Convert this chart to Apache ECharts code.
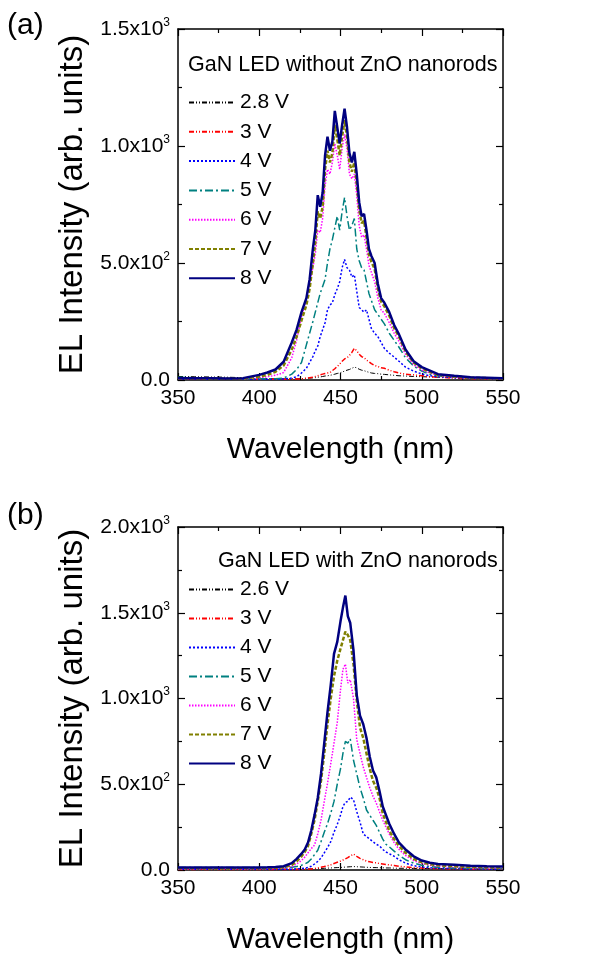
<!DOCTYPE html>
<html><head><meta charset="utf-8">
<script src="https://cdn.jsdelivr.net/npm/echarts@6/dist/echarts.min.js"></script>
<style>html,body{margin:0;padding:0;background:#fff}#c{width:601px;height:956px}</style>
</head><body><div id="c"></div>
<script>
// ---------- DATA ----------
const seriesNamesTop = ['2.8 V','3 V','4 V','5 V','6 V','7 V','8 V'];
const seriesNamesBot = ['2.6 V','3 V','4 V','5 V','6 V','7 V','8 V'];
const xTicks = [350,400,450,500,550];
const topYTicks = [0,500,1000,1500];
const topYTickLabels = ['0.0','5.0x10^2','1.0x10^3','1.5x10^3'];
const botYTicks = [0,500,1000,1500,2000];
const botYTickLabels = ['0.0','5.0x10^2','1.0x10^3','1.5x10^3','2.0x10^3'];
const topTitle = 'GaN LED without ZnO nanorods';
const botTitle = 'GaN LED with ZnO nanorods';

const topWl = [350,360,370,380,390,400,405,410,415,420,423,426,429,431,433,434.5,436,437.5,439,440.5,442,443.5,445,446.5,448,449.5,451,452.5,454,455.5,457,458.5,460,461.5,463,464.5,466,467.5,469,471,473,475,477,480,483,486,490,495,500,505,510,520,530,540,550];
const top28 = [15,14,13,12,10,8,6,5,5,5,5,6,7,8,9,10,12,13,15,17,18,20,22,25,28,30,34,38,42,45,50,55,52,46,42,40,36,33,30,28,27,25,24,22,20,18,17,15,14,13,12,11,10,9,8];
const top3  = [3,3,3,3,3,3,3,3,3,3,4,5,8,10,12,15,18,22,25,28,30,32,40,48,58,68,80,90,95,105,118,135,125,110,100,95,85,78,70,62,58,52,50,42,35,30,25,22,18,14,12,8,6,5,4];
const top4  = [4,4,3,3,3,3,3,3,4,8,14,30,50,75,100,125,145,185,215,245,300,320,330,365,390,420,480,515,480,470,440,450,380,310,300,290,300,260,220,200,185,160,135,115,98,80,55,38,26,18,14,10,8,6,5];
const top5  = [12,10,8,6,5,5,5,5,8,25,45,75,150,200,250,290,330,370,400,430,500,560,600,650,700,640,720,780,700,640,660,690,560,510,480,470,420,370,340,300,280,260,240,200,170,140,95,60,38,25,18,12,9,7,6];
const top6  = [5,5,4,4,5,10,14,20,32,95,170,270,350,420,480,540,640,630,690,830,900,880,930,1010,960,900,990,1050,990,880,860,880,790,660,610,620,560,490,460,420,350,300,285,245,200,165,110,65,42,30,20,12,9,7,6];
const top7  = [6,6,5,5,6,15,22,35,62,130,185,255,320,390,500,590,720,690,740,900,980,930,970,1090,1030,960,1040,1110,1040,930,890,930,840,730,670,680,610,535,505,475,390,335,315,275,222,185,122,75,50,35,22,15,10,8,6];
const top8  = [8,8,7,6,8,22,32,45,78,160,215,290,350,430,560,640,790,740,800,960,1040,980,1020,1150,1080,1010,1090,1160,1080,970,930,975,880,760,700,710,640,560,530,500,410,350,330,290,235,195,130,80,55,40,25,18,12,10,8];

const botWl = [350,360,370,380,390,400,405,410,415,420,423,426,428,430,432,434,436,438,440,442,444,446,448,450,451.5,453,454.5,456,458,460,462,464,466,468,470,472,474,476,478,480,483,486,490,495,500,505,510,520,530,540,550];
const bot26 = [6,6,5,5,5,5,5,5,5,5,5,6,6,6,7,7,8,9,10,11,12,13,14,15,16,17,18,19,20,19,18,17,16,15,14,14,13,13,12,12,11,10,10,9,9,8,8,7,7,6,6];
const bot3  = [3,3,3,3,3,3,3,3,3,3,3,4,4,5,6,8,12,16,20,25,30,38,45,52,58,65,72,82,93,80,68,60,52,48,44,42,38,35,32,30,26,22,18,14,11,9,8,6,5,4,4];
const bot4  = [4,4,4,4,4,4,4,4,4,5,6,8,10,15,22,35,50,70,100,130,165,220,265,320,370,395,400,425,410,340,280,210,195,180,165,150,140,120,105,95,80,60,40,25,18,13,10,8,6,5,5];
const bot5  = [15,15,14,14,14,14,14,14,14,16,20,28,35,45,64,90,115,165,220,270,330,400,500,590,680,750,740,765,640,560,480,420,350,320,290,260,220,180,150,135,110,85,60,40,28,20,16,12,10,9,8];
const bot6  = [6,6,6,6,6,7,8,9,12,20,35,55,75,100,125,145,210,290,400,505,620,740,860,1050,1170,1200,1090,1110,1000,760,680,600,540,480,430,390,340,290,250,210,160,120,85,55,38,28,22,17,14,12,11];
const bot7  = [10,10,9,9,10,10,11,13,16,30,50,80,105,140,210,290,400,520,680,850,1000,1130,1220,1290,1340,1390,1370,1340,1200,990,830,770,680,590,520,480,420,330,280,230,180,140,100,65,45,34,28,22,18,16,14];
const bot8  = [15,15,14,14,15,15,16,18,22,40,65,95,120,160,230,320,420,560,740,920,1080,1260,1330,1450,1530,1600,1480,1440,1280,1020,900,850,770,660,580,540,460,370,320,270,210,160,120,80,55,42,35,30,25,22,20];

// ---------- STYLE ----------
const styles = [
  {color:'#000000', width:1,   type:[5,2,1,2,1,2]},
  {color:'#ff0000', width:1.5, type:[5,2,1,2,1,2]},
  {color:'#0000ff', width:1.5, type:[2,2]},
  {color:'#008080', width:1.5, type:[8,3,2,3]},
  {color:'#ff00ff', width:1.5, type:[1.5,1.5]},
  {color:'#808000', width:2.5, type:[4,2]},
  {color:'#000080', width:2.5, type:'solid'}
];
const FONT = 'Liberation Sans, Arial, sans-serif';

function richLabel(s){
  const p = s.split('^');
  return p.length>1 ? '{m|'+p[0]+'}{s|'+p[1]+'}' : '{m|'+p[0]+'}';
}
const labelRich = {
  m:{fontSize:21, fontFamily:FONT, color:'#000'},
  s:{fontSize:12, fontFamily:FONT, color:'#000', padding:[0,0,13,0]}
};
function yAxes(gi, max, ticks, labels){
  const common = {gridIndex:gi, type:'value', min:0, max:max, interval:500,
    splitLine:{show:false},
    axisLine:{show:true, onZero:false, lineStyle:{color:'#000', width:1.5}},
    axisTick:{show:true, inside:true, length:7, lineStyle:{color:'#000', width:1.2}},
    minorTick:{show:true, splitNumber:2, length:4, lineStyle:{color:'#000', width:1.2}}};
  return [
    Object.assign({}, common, {position:'left',
      name:'EL Intensity (arb. units)', nameLocation:'middle', nameGap:86, nameRotate:90,
      nameTextStyle:{fontSize:33, fontFamily:FONT, color:'#000'},
      axisLabel:{margin:8, formatter:v=>{const i=ticks.indexOf(v);return i<0?'':richLabel(labels[i]);}, rich:labelRich}}),
    Object.assign({}, common, {position:'right', axisLabel:{show:false}})
  ];
}
function xAxes(gi){
  const common = {gridIndex:gi, type:'value', min:350, max:550, interval:50,
    splitLine:{show:false},
    axisLine:{show:true, onZero:false, lineStyle:{color:'#000', width:1.5}},
    axisTick:{show:true, inside:true, length:7, lineStyle:{color:'#000', width:1.2}},
    minorTick:{show:true, splitNumber:2, length:4, lineStyle:{color:'#000', width:1.2}}};
  return [
    Object.assign({}, common, {position:'bottom',
      name:'Wavelength (nm)', nameLocation:'middle', nameGap:55,
      nameTextStyle:{fontSize:30, fontFamily:FONT, color:'#000'},
      axisLabel:{margin:8, fontSize:21, fontFamily:FONT, color:'#000',
        formatter:v=> xTicks.indexOf(v)<0?'':String(v)}}),
    Object.assign({}, common, {position:'top', axisLabel:{show:false}})
  ];
}

const topSets = [top28,top3,top4,top5,top6,top7,top8];
const botSets = [bot26,bot3,bot4,bot5,bot6,bot7,bot8];
const series = [];
topSets.forEach((arr,k)=>{
  series.push({name:seriesNamesTop[k], type:'line', xAxisIndex:0, yAxisIndex:0,
    symbol:'none', animation:false, z:2+k,
    lineStyle:{color:styles[k].color, width:styles[k].width, type:styles[k].type},
    itemStyle:{color:styles[k].color},
    data: topWl.map((w,i)=>[w, arr[i]])});
});
botSets.forEach((arr,k)=>{
  series.push({name:seriesNamesBot[k], type:'line', xAxisIndex:2, yAxisIndex:2,
    symbol:'none', animation:false, z:2+k,
    lineStyle:{color:styles[k].color, width:styles[k].width, type:styles[k].type},
    itemStyle:{color:styles[k].color},
    data: botWl.map((w,i)=>[w, arr[i]])});
});

const legendCommon = {orient:'vertical', itemWidth:46, itemHeight:14,
  itemStyle:{opacity:0, borderWidth:0},
  textStyle:{fontSize:21, fontFamily:FONT, color:'#000'},
  selectedMode:false, left:183};

const option = {
  animation:false,
  backgroundColor:'#fff',
  title:[
    {text:'(a)', left:2, top:6, textStyle:{fontSize:30, fontWeight:'normal', fontFamily:FONT, color:'#000'}},
    {text:'(b)', left:2, top:496, textStyle:{fontSize:30, fontWeight:'normal', fontFamily:FONT, color:'#000'}},
    {text:topTitle, left:183, top:49, textStyle:{fontSize:21.5, fontWeight:'normal', fontFamily:FONT, color:'#000'}},
    {text:botTitle, left:213, top:545, textStyle:{fontSize:21.5, fontWeight:'normal', fontFamily:FONT, color:'#000'}}
  ],
  grid:[
    {left:178, right:98, top:29, height:351},
    {left:178, right:98, top:527, height:345}
  ],
  xAxis: xAxes(0).concat(xAxes(1)),
  yAxis: yAxes(0,1500,topYTicks,topYTickLabels).concat(yAxes(1,2000,botYTicks,botYTickLabels)),
  legend:[
    Object.assign({}, legendCommon, {top:87, itemGap:8.3, data:seriesNamesTop}),
    Object.assign({}, legendCommon, {top:574, itemGap:8, data:seriesNamesBot})
  ],
  series: series
};
const chart = echarts.init(document.getElementById('c'), null, {renderer:'canvas'});
chart.setOption(option);
</script></body></html>
